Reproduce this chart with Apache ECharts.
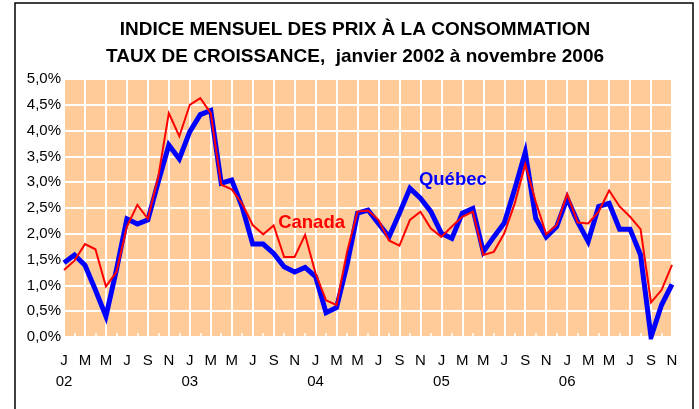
<!DOCTYPE html>
<html>
<head>
<meta charset="utf-8">
<script src="https://cdn.jsdelivr.net/npm/echarts@6/dist/echarts.min.js"></script>
<style>
  html, body { margin: 0; padding: 0; background: #fff; }
  #chart { width: 699px; height: 409px; }
</style>
</head>
<body>
<div id="chart"></div>
<script>
  // lettres des mois et années (étiquettes de l'axe)
  var monthLetters = ['J', 'F', 'M', 'A', 'M', 'J', 'J', 'A', 'S', 'O', 'N', 'D'];
  var years = ['02', '03', '04', '05', '06'];
  var yTicks = [0, 0.5, 1, 1.5, 2, 2.5, 3, 3.5, 4, 4.5, 5];

  // taux de croissance (%) janvier 2002 à novembre 2006
  var quebec = [1.44, 1.59, 1.39, 0.91, 0.40, 1.30, 2.29, 2.19, 2.27, 3.01, 3.72, 3.45,
    3.98, 4.31, 4.39, 2.98, 3.04, 2.52, 1.80, 1.80, 1.62, 1.36, 1.26, 1.35,
    1.17, 0.47, 0.57, 1.40, 2.40, 2.46, 2.20, 1.94, 2.40, 2.88, 2.69, 2.43,
    2.01, 1.91, 2.40, 2.49, 1.65, 1.94, 2.21, 2.87, 3.58, 2.30, 1.94, 2.14,
    2.69, 2.23, 1.85, 2.53, 2.59, 2.09, 2.09, 1.59, 0.00, 0.62, 1.02];
  var canada = [1.30, 1.48, 1.80, 1.70, 0.98, 1.26, 2.14, 2.56, 2.29, 3.11, 4.34, 3.89,
    4.50, 4.63, 4.34, 2.95, 2.86, 2.58, 2.17, 1.99, 2.16, 1.55, 1.55, 1.98,
    1.23, 0.71, 0.62, 1.65, 2.43, 2.45, 2.27, 1.87, 1.77, 2.27, 2.43, 2.10,
    1.94, 2.14, 2.33, 2.43, 1.59, 1.65, 2.01, 2.59, 3.35, 2.62, 1.99, 2.17,
    2.77, 2.22, 2.20, 2.43, 2.84, 2.53, 2.33, 2.09, 0.67, 0.91, 1.40];

  var categories = [];
  for (var y = 0; y < years.length; y++) {
    for (var m = 0; m < 12; m++) {
      if (categories.length < quebec.length) categories.push(years[y] + '-' + m);
    }
  }

  var font = '"Liberation Sans", Arial, sans-serif';
  var chart = echarts.init(document.getElementById('chart'));

  var option = {
    animation: false,
    textStyle: { fontFamily: font },
    graphic: [
      {
        type: 'rect',
        shape: { x: 15, y: 3, width: 678, height: 430 },
        style: { fill: 'none', stroke: '#000', lineWidth: 1.5 },
        silent: true
      },
      {
        type: 'text', x: 355, y: 29.5,
        style: {
          text: 'INDICE MENSUEL DES PRIX À LA CONSOMMATION',
          font: 'bold 19px ' + font, fill: '#000',
          textAlign: 'center', textVerticalAlign: 'middle'
        }
      },
      {
        type: 'text', x: 355, y: 56.5,
        style: {
          text: 'TAUX DE CROISSANCE,  janvier 2002 à novembre 2006',
          font: 'bold 19px ' + font, fill: '#000',
          textAlign: 'center', textVerticalAlign: 'middle'
        }
      }
    ],
    grid: {
      show: true,
      left: 64, right: 27, top: 79, bottom: 72,
      backgroundColor: '#FFCC99',
      borderWidth: 0,
      containLabel: false
    },
    xAxis: {
      type: 'category',
      data: categories,
      boundaryGap: false,
      axisLine: { show: false },
      axisTick: {
        show: true, inside: true, length: 4, interval: 0,
        lineStyle: { color: '#fff', width: 1.5 }
      },
      axisLabel: {
        interval: function (i) { return i % 2 === 0; },
        margin: 13,
        fontSize: 15,
        lineHeight: 21,
        color: '#000',
        formatter: function (val, i) {
          var m = i % 12;
          var label = monthLetters[m];
          if (m === 0) label += '\n' + years[Math.floor(i / 12)];
          return label;
        }
      },
      splitLine: {
        show: true,
        interval: function (i) { return i % 2 === 0; },
        lineStyle: { color: '#fff', width: 2 }
      }
    },
    yAxis: {
      type: 'value',
      min: yTicks[0],
      max: yTicks[yTicks.length - 1],
      interval: 0.5,
      axisLine: { show: false },
      axisTick: { show: false },
      axisLabel: {
        margin: 3,
        fontSize: 15,
        color: '#000',
        formatter: function (v) { return v.toFixed(1).replace('.', ',') + '%'; }
      },
      splitLine: { show: true, lineStyle: { color: '#fff', width: 2 } }
    },
    series: [
      {
        name: 'Québec',
        type: 'line',
        data: quebec,
        symbol: 'none',
        lineStyle: { color: '#0000FF', width: 5, join: 'miter' },
        markPoint: {
          symbol: 'circle', symbolSize: 0, silent: true,
          label: {
            show: true, position: 'inside', offset: [1, 1],
            formatter: 'Québec',
            color: '#0000FF', fontSize: 18.5, fontWeight: 'bold', fontFamily: font
          },
          data: [{ coord: [categories[37], 3.06] }]
        }
      },
      {
        name: 'Canada',
        type: 'line',
        data: canada,
        symbol: 'none',
        lineStyle: { color: '#FF0000', width: 2, join: 'miter' },
        markPoint: {
          symbol: 'circle', symbolSize: 0, silent: true,
          label: {
            show: true, position: 'inside', offset: [-4, 1],
            formatter: 'Canada',
            color: '#FF0000', fontSize: 18.5, fontWeight: 'bold', fontFamily: font
          },
          data: [{ coord: [categories[24], 2.23] }]
        }
      }
    ]
  };

  chart.setOption(option);
</script>
</body>
</html>
